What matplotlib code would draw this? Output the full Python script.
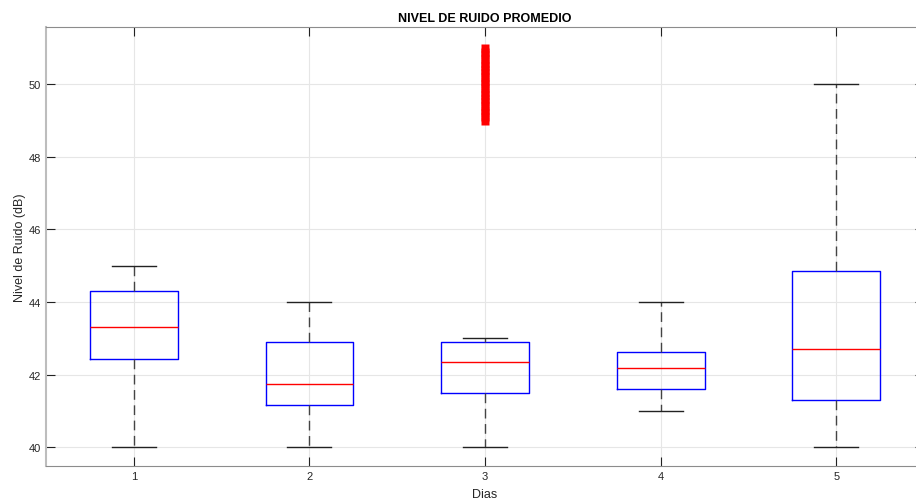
import matplotlib.pyplot as plt
import numpy as np

plt.rcParams['font.family'] = ['Liberation Sans', 'DejaVu Sans']

dias = [1, 2, 3, 4, 5]
whislo = [40.0, 40.0, 40.0, 41.0, 40.0]
q1 = [42.44, 41.17, 41.49, 41.61, 41.31]
med = [43.32, 41.74, 42.35, 42.18, 42.71]
q3 = [44.31, 42.89, 42.89, 42.61, 44.85]
whishi = [45.0, 44.0, 43.0, 44.0, 50.0]
# day 3 has a dense run of outliers between 49 and 51 dB
outliers_dia3 = [49.0, 49.1, 49.2, 49.3, 49.4, 49.5, 49.6, 49.7, 49.8, 49.9, 50.0,
                 50.1, 50.2, 50.3, 50.4, 50.5, 50.6, 50.7, 50.8, 50.9, 51.0]
fliers = [[], [], outliers_dia3, [], []]

stats = []
for i in range(len(dias)):
    stats.append({"whislo": whislo[i], "q1": q1[i], "med": med[i], "q3": q3[i],
                  "whishi": whishi[i], "fliers": fliers[i], "label": str(dias[i])})

fig = plt.figure(figsize=(9.16, 5.02), dpi=100)
ax = fig.add_axes([46/916, 1-467/502, 878/916, (467-28)/502])

ax.bxp(stats, positions=dias, widths=0.5, capwidths=0.25,
       boxprops=dict(color="blue", linewidth=1.0),
       medianprops=dict(color="red", linewidth=1.0),
       whiskerprops=dict(color="#444444", linestyle=(0, (7, 4)), linewidth=1.0),
       capprops=dict(color="#222222", linewidth=1.0),
       flierprops=dict(marker="s", markerfacecolor="red", markeredgecolor="none",
                       markersize=5.8))

ax.set_xlim(0.5, 5.5)
ax.set_ylim(39.48, 51.58)
ax.set_yticks([40, 42, 44, 46, 48, 50])
ax.set_xticks(dias)
ax.set_xticklabels([str(d) for d in dias])
ax.grid(True, color="#e6e6e6", linewidth=0.8)
ax.set_axisbelow(True)
ax.tick_params(direction="in", length=6.5, top=True, right=True, labelsize=8,
               colors="#222222", labelcolor="#262626", width=0.8)
for s in ax.spines.values():
    s.set_color("#8c8c8c")
    s.set_linewidth(0.8)
ax.spines["left"].set_color("#bdbdbd")
ax.spines["left"].set_linewidth(1.5)

ax.set_title("NIVEL DE RUIDO PROMEDIO", fontsize=9, fontweight="bold", pad=4)
ax.set_xlabel("Dias", fontsize=9, color="#262626", labelpad=5)
ax.set_ylabel("Nivel de Ruido (dB)", fontsize=9, color="#262626", labelpad=2)

plt.savefig("out.png", dpi=100)
